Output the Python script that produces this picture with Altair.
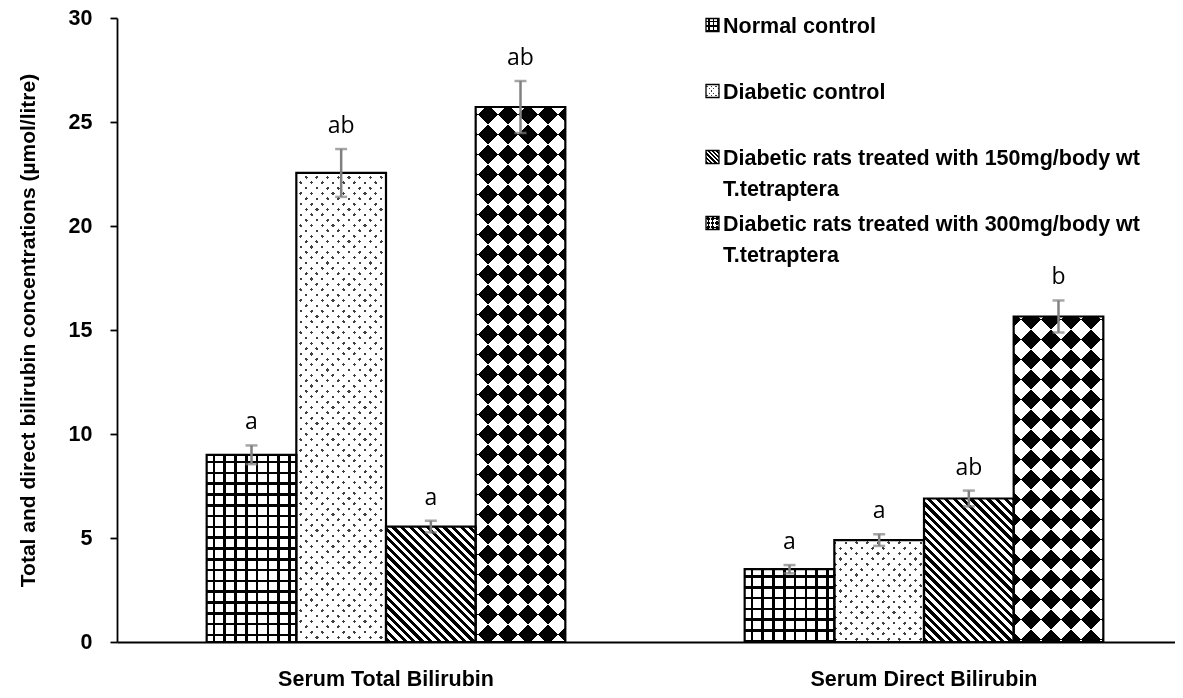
import math
import altair as alt
import pandas as pd

# ---------------- data ----------------
categories = ["Serum Total Bilirubin", "Serum Direct Bilirubin"]
series = [
    "Normal control",
    "Diabetic control",
    "Diabetic rats treated with 150mg/body wt T.tetraptera",
    "Diabetic rats treated with 300mg/body wt T.tetraptera",
]
total_means = [9.0, 22.55, 5.55, 25.72]
total_errs = [0.45, 1.15, 0.28, 1.25]
direct_means = [3.5, 4.9, 6.9, 15.65]
direct_errs = [0.2, 0.28, 0.38, 0.77]
total_letters = ["a", "ab", "a", "ab"]
direct_letters = ["a", "a", "ab", "b"]
y_ticks = [0, 5, 10, 15, 20, 25, 30]
y_title = "Total and direct bilirubin concentrations (\u00b5mol/litre)"

rows = []
for cat, means, errs, lets in zip(categories, [total_means, direct_means],
                                  [total_errs, direct_errs],
                                  [total_letters, direct_letters]):
    for s, m, e, l in zip(series, means, errs, lets):
        rows.append(dict(category=cat, series=s, value=m, lo=m - e, hi=m + e, letter=l))
df = pd.DataFrame(rows)

# ---------------- layout ----------------
PLOT_W = 1058
BAND_RANGE = 1076
PLOT_H = 624
Y_MAX = 30
BAR_W = BAND_RANGE / 2 / 6
PX = PLOT_H / Y_MAX
FONT_B = "Liberation Sans, Arial, sans-serif"
FS = 21.5


# ---------------- pattern helpers (linear gradients as stripes) ----------------
def seg_stops(total, period, on_w, phase=0.0, on="#000000", off="#ffffff"):
    stops = []

    def add(p, c):
        stops.append({"offset": round(min(max(p / total, 0.0), 1.0), 5), "color": c})

    n = int(math.floor(-phase / period)) - 1
    cur = 0.0
    while True:
        a = phase + n * period
        if a > total:
            break
        b = a + on_w
        n += 1
        a2, b2 = max(a, 0.0), min(b, total)
        if b2 <= 0 or a2 >= total:
            continue
        if a2 > cur:
            add(cur, off)
            add(a2, off)
        add(a2, on)
        add(b2, on)
        cur = b2
    if cur < total:
        add(cur, off)
        add(total, off)
    return stops


def grad(stops, x1, y1, x2, y2):
    return {"gradient": "linear", "x1": round(x1, 6), "y1": round(y1, 6),
            "x2": round(x2, 6), "y2": round(y2, 6), "stops": stops}


def g_vert(w, h, p, lw, ph=0.0, on="#000000"):
    return grad(seg_stops(w, p, lw, ph, on), 0, 0, 1, 0)


def g_horz(w, h, p, lw, ph=0.0, on="#000000"):
    return grad(seg_stops(h, p, lw, ph, on), 0, 0, 0, 1)


def g_slash(w, h, p, lw, ph=0.0, on="#000000"):
    k = (w + h) / (w * w + h * h)
    return grad(seg_stops(w + h, p, lw, ph, on), 0, 0, k * w, k * h)


def g_back(w, h, p, lw, ph=0.0, on="#000000"):
    k = (w + h) / (w * w + h * h)
    return grad(seg_stops(w + h, p, lw, ph, on), 0, 1, k * w, 1 - k * h)


def pattern_fills(idx, w, h, icon=False):
    if idx == 0:  # grid
        p, lw = (4.4, 1.3) if icon else (10.8, 2.6)
        return [(g_vert(w, h, p, lw, p * 0.55), None),
                (g_horz(w, h, p, lw, p * 0.55), "multiply")]
    if idx == 1:  # dots
        p, lw = (4.6, 1.6) if icon else (10.7, 3.3)
        return [(g_slash(w, h, p, lw, 2, "#222222"), None),
                (g_back(w, h, p, lw, 2, "#222222"), "screen")]
    if idx == 2:  # diagonal stripes
        p, lw = (4.2, 2.1) if icon else (8.5, 4.25)
        return [(g_back(w, h, p, lw, 1), None)]
    # diamonds (rotated checkerboard)
    p, lw = (9.0, 4.5) if icon else (40.0, 20.0)
    return [(g_slash(w, h, p, lw, 10 if not icon else 2), None),
            (g_back(w, h, p, lw, 10 if not icon else 2), "difference")]


# ---------------- encodings ----------------
x_enc = alt.X("category:N",
              scale=alt.Scale(domain=categories, range=[0, BAND_RANGE],
                              paddingInner=0, paddingOuter=0),
              sort=categories,
              axis=alt.Axis(title=None, ticks=False, domainColor="black", domainWidth=2,
                            labelFont=FONT_B, labelFontWeight="bold", labelFontSize=FS,
                            labelColor="black", labelBaseline="alphabetic",
                            labelPadding=43, labelAngle=0, labelLimit=600))
xo_enc = alt.XOffset("series:N",
                     scale=alt.Scale(domain=series, paddingOuter=1, paddingInner=0),
                     sort=series)
y_scale = alt.Scale(domain=[0, Y_MAX], nice=False, zero=True)
y_axis = alt.Axis(values=y_ticks, title=y_title, grid=False,
                  domainColor="black", domainWidth=1.8,
                  tickColor="black", tickWidth=1.8, tickSize=7,
                  labelFont=FONT_B, labelFontWeight="bold", labelFontSize=FS,
                  labelColor="black", labelPadding=18,
                  titleFont=FONT_B, titleFontWeight="bold", titleFontSize=21,
                  titleColor="black", titleX=-89, titleY=PLOT_H / 2,
                  titleAngle=-90, titleAlign="center",
                  titleBaseline="middle")


def yq(field):
    return alt.Y(field, type="quantitative", scale=y_scale, axis=y_axis)


layers = []
base = alt.Chart(df)

layers.append(base.mark_bar(fill="white").encode(x=x_enc, xOffset=xo_enc, y=yq("value")))

for cat, means in zip(categories, [total_means, direct_means]):
    for i, (s, m) in enumerate(zip(series, means)):
        w, h = BAR_W, m * PX
        for fill, blend in pattern_fills(i, w, h):
            kw = {"fill": fill}
            if blend:
                kw["blend"] = blend
            layers.append(
                base.transform_filter((alt.datum.category == cat) & (alt.datum.series == s))
                .mark_bar(**kw)
                .encode(x=x_enc, xOffset=xo_enc, y=yq("value"))
            )

# outlines
layers.append(base.mark_bar(fillOpacity=0, stroke="black", strokeWidth=2.2)
              .encode(x=x_enc, xOffset=xo_enc, y=yq("value")))

# error bars
ERR = "#808080"
layers.append(base.mark_rule(color=ERR, strokeWidth=2.5)
              .encode(x=x_enc, xOffset=xo_enc, y=yq("lo"), y2="hi:Q"))
layers.append(base.mark_tick(color=ERR, thickness=2.5, size=12)
              .encode(x=x_enc, xOffset=xo_enc, y=yq("lo")))
layers.append(base.mark_tick(color=ERR, thickness=2.5, size=12)
              .encode(x=x_enc, xOffset=xo_enc, y=yq("hi")))

# significance letters
layers.append(base.mark_text(font="Open Sans", fontSize=23, color="black",
                             baseline="middle", dy=-23)
              .encode(x=x_enc, xOffset=xo_enc, y=yq("hi"), text="letter:N"))

# legend (manual, to show the hatch patterns)
LEG_ICON_X = 589  # relative to plot origin
LEG_TEXT_X = LEG_ICON_X + 17
LEG_Y0 = 7
LEG_STEP = 66
ICON = 13
one = alt.Data(values=[{"k": 1}])
for i, s in enumerate(series):
    yc = LEG_Y0 + i * LEG_STEP
    for fill, blend in pattern_fills(i, ICON, ICON, icon=True):
        kw = {"fill": fill}
        if blend:
            kw["blend"] = blend
        layers.append(alt.Chart(one).mark_rect(**kw).encode(
            x=alt.value(LEG_ICON_X), x2=alt.value(LEG_ICON_X + ICON),
            y=alt.value(yc - ICON / 2), y2=alt.value(yc + ICON / 2)))
    layers.append(alt.Chart(one).mark_rect(fillOpacity=0, stroke="black", strokeWidth=1.3).encode(
        x=alt.value(LEG_ICON_X), x2=alt.value(LEG_ICON_X + ICON),
        y=alt.value(yc - ICON / 2), y2=alt.value(yc + ICON / 2)))
    label = s.replace(" T.tetraptera", "\nT.tetraptera")
    layers.append(alt.Chart(one).mark_text(
        align="left", baseline="alphabetic", lineBreak="\n", lineHeight=31,
        font=FONT_B, fontWeight="bold", fontSize=FS, color="black").encode(
        x=alt.value(LEG_TEXT_X), y=alt.value(yc + 8), text=alt.value(label)))

chart = alt.layer(*layers).properties(
    width=PLOT_W, height=PLOT_H,
    autosize=alt.AutoSizeParams(type="none"),
    padding={"left": 109, "top": 10, "right": 0, "bottom": 44},
    background="white",
).configure_view(stroke="transparent")

chart.save("out.html", embed_options={"renderer": "svg", "actions": False})
